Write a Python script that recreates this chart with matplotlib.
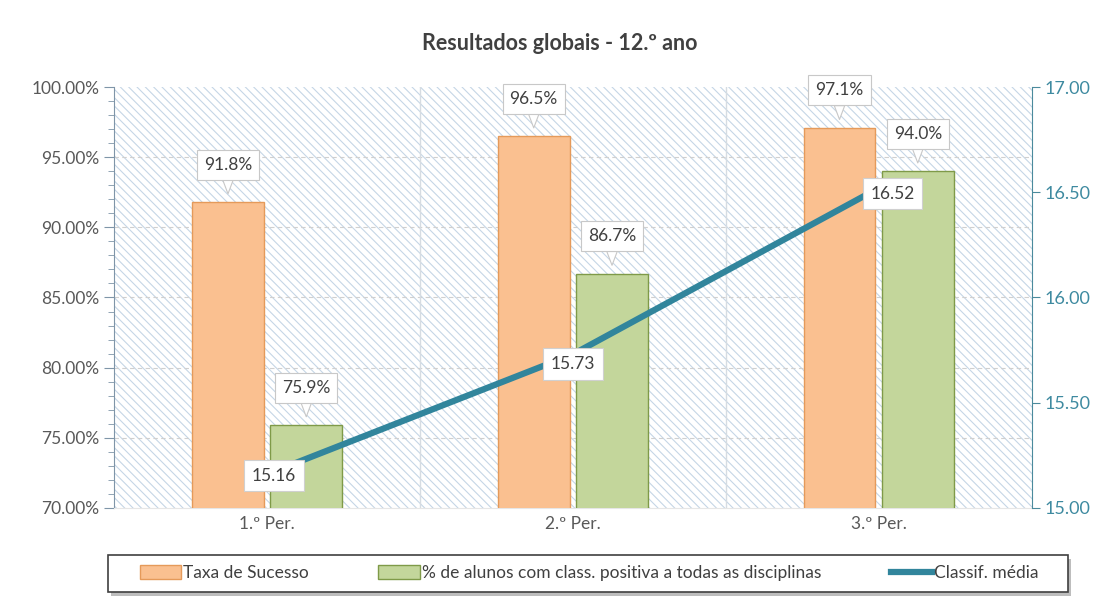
import matplotlib.pyplot as plt
from matplotlib.patches import Rectangle
from matplotlib.ticker import MultipleLocator, FuncFormatter

periodos = ['1.º Per.', '2.º Per.', '3.º Per.']
taxa_sucesso = [91.8, 96.5, 97.1]
positiva_todas = [75.9, 86.7, 94.0]
classif_media = [15.16, 15.73, 16.52]

plt.rcParams['font.family'] = ['Lato', 'DejaVu Sans']
plt.rcParams['hatch.linewidth'] = 0.8

fig = plt.figure(figsize=(11.2, 6.01), dpi=100)
ax = fig.add_axes([0.102, 0.155, 0.819, 0.70])

# hatched background
ax.patch.set_visible(False)
bg = Rectangle((0, 0), 1, 1, transform=ax.transAxes, facecolor='white',
               edgecolor='#C5D6E6', hatch='\\\\\\\\', linewidth=0, zorder=-5)
ax.add_patch(bg)

x = list(range(len(periodos)))
w = 0.235
xo = [i - 0.128 for i in x]
xg = [i + 0.128 for i in x]
ax.bar(xo, taxa_sucesso, width=w, color='#FAC090', edgecolor='#E59A5A', linewidth=1, zorder=3)
ax.bar(xg, positiva_todas, width=w, color='#C3D69B', edgecolor='#7F9A48', linewidth=1, zorder=3)

ax.set_ylim(70, 100)
ax.set_xlim(-0.5, 2.5)
ax.yaxis.set_major_locator(MultipleLocator(5))
ax.yaxis.set_minor_locator(MultipleLocator(1))
ax.yaxis.set_major_formatter(FuncFormatter(lambda v, p: '%.2f%%' % v))
ax.set_xticks(x)
ax.set_xticklabels(periodos)
ax.tick_params(axis='x', length=0, labelsize=12.5, colors='#595959', pad=6)
ax.tick_params(axis='y', which='both', colors='#7F95A8', labelcolor='#595959', labelsize=12.5, direction='out')
ax.tick_params(axis='y', which='major', length=7)
ax.tick_params(axis='y', which='minor', length=4)
for yv in range(75, 100, 5):
    ax.axhline(yv, color='#D0D0D0', linestyle=(0, (4, 3)), linewidth=0.8, zorder=1)
for xv in [0.5, 1.5]:
    ax.axvline(xv, color='#D6DCE2', linewidth=1, zorder=1)
ax.spines['top'].set_visible(False)
ax.spines['bottom'].set_color('#E6E6E6')
ax.spines['left'].set_color('#7F95A8')
ax.spines['right'].set_visible(False)

box = dict(boxstyle='square,pad=0.4', fc='white', ec='#C8C8C8', lw=0.8)
for xs, vals in [(xo, taxa_sucesso), (xg, positiva_todas)]:
    for xi, v in zip(xs, vals):
        ax.annotate('%.1f%%' % v, xy=(xi, v), xytext=(0, 27), textcoords='offset points',
                    ha='center', va='center', fontsize=12.5, color='#404040', bbox=box, zorder=6,
                    arrowprops=dict(arrowstyle='wedge,tail_width=0.6', fc='white', ec='#C8C8C8',
                                    lw=0.8, shrinkA=0, shrinkB=6))

ax2 = ax.twinx()
ax2.plot(x, classif_media, color='#31859C', linewidth=4.5, zorder=4, solid_capstyle='butt')
ax2.set_ylim(15, 17)
ax2.yaxis.set_major_locator(MultipleLocator(0.5))
ax2.yaxis.set_major_formatter(FuncFormatter(lambda v, p: '%.2f' % v))
ax2.tick_params(axis='y', colors='#4A8A9C', labelcolor='#3E8AA0', labelsize=13, length=6)
for s in ['top', 'left', 'bottom']:
    ax2.spines[s].set_visible(False)
ax2.spines['right'].set_color('#4A8A9C')

offs = [(5, -1), (0, -7), (10, -4)]
for xi, v, o in zip(x, classif_media, offs):
    ax2.annotate('%.2f' % v, xy=(xi, v), xytext=o, textcoords='offset points',
                 ha='center', va='center', fontsize=12.5, color='#404040',
                 bbox=dict(boxstyle='square,pad=0.45', fc='white', ec='#D0D0D0', lw=0.8), zorder=6)

fig.text(0.5, 0.927, 'Resultados globais - 12.º ano', ha='center', va='center',
         fontsize=15.5, fontweight='bold', color='#404040')

# legend frame with shadow
fig.patches.append(Rectangle((0.0994, 0.008), 0.857, 0.0616, transform=fig.transFigure,
                             fc='#BDBDBD', ec='none', zorder=0))
fig.patches.append(Rectangle((0.0964, 0.015), 0.857, 0.0616, transform=fig.transFigure,
                             fc='white', ec='#404040', lw=1.2, zorder=1))

h1 = Rectangle((0, 0), 1, 1, fc='#FAC090', ec='#E59A5A')
h2 = Rectangle((0, 0), 1, 1, fc='#C3D69B', ec='#7F9A48')
h3 = plt.Line2D([0], [0], color='#31859C', linewidth=4.5)
leg = fig.legend([h1, h2, h3], ['Taxa de Sucesso', '% de alunos com class. positiva a todas as disciplinas', 'Classif. média'],
                 loc='center', bbox_to_anchor=(0.526, 0.0466), ncol=3,
                 fontsize=12.5, frameon=False, handlelength=2.4, handleheight=0.8,
                 handletextpad=0.1, columnspacing=4.0)
for t in leg.get_texts():
    t.set_color('#404040')

fig.savefig('out.png', dpi=100)
